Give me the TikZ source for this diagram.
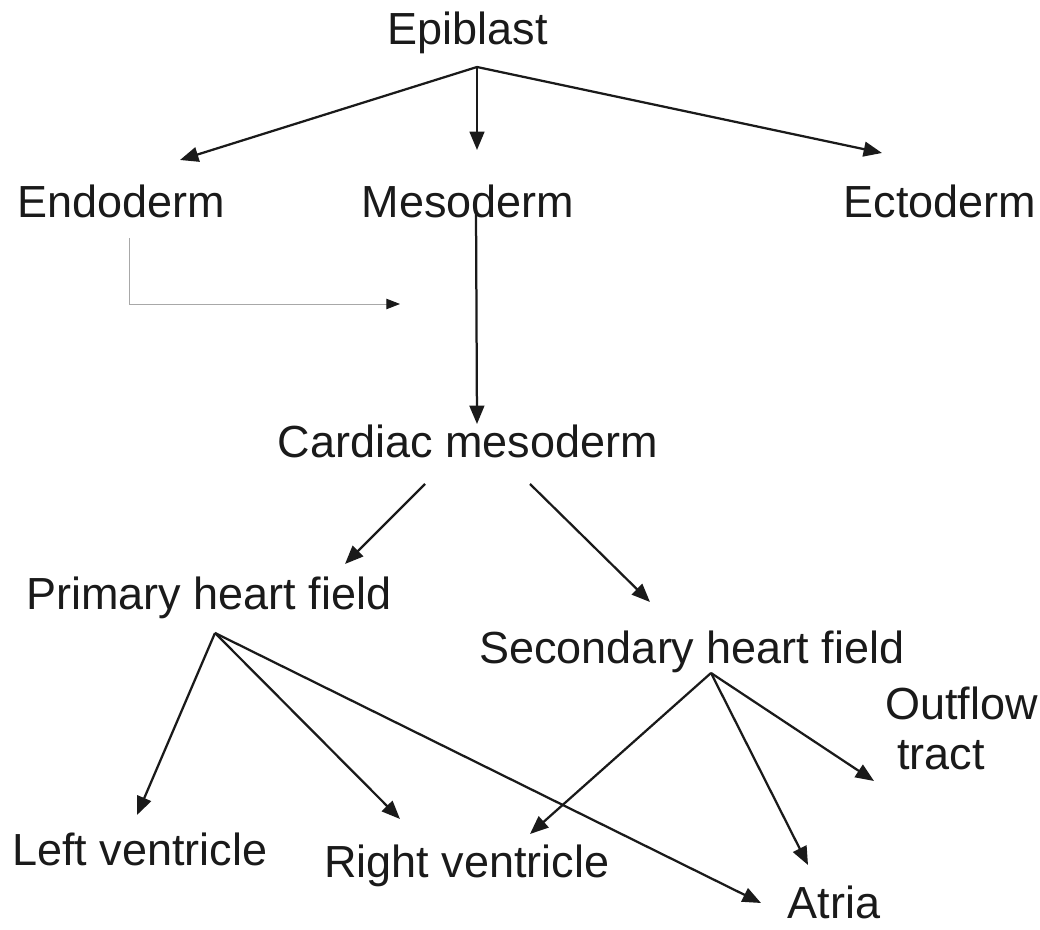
\documentclass[tikz,border=0pt]{standalone}
\usepackage{fontspec}
\setmainfont{Liberation Sans}
\usetikzlibrary{arrows.meta}
\definecolor{cline}{HTML}{1A1A1A}
\definecolor{cgrey}{HTML}{A8A8A8}
\tikzset{
  every picture/.style={line width=1.6pt},
  label/.style={anchor=base, inner sep=0pt, font=\fontsize{32}{35.5}\selectfont, text=cline},
  arrow/.style={-{Triangle[length=4.6mm, width=3.7mm]}, draw=cline},
  thinarrow/.style={-{Triangle[length=3.4mm, width=2.6mm, color=cline]}, draw=cgrey, line width=0.6pt},
}
\begin{document}
\begin{tikzpicture}
  \useasboundingbox (0,0) rectangle (26,-23.25);
  % germ layers
  \node[label] (epi) at (11.7,-1.125) {Epiblast};
  \node[label] (endo) at (3.04,-5.45) {Endoderm};
  \node[label] (meso) at (11.7,-5.45) {Mesoderm};
  \node[label] (ecto) at (23.5,-5.45) {Ectoderm};
  \node[label] (card) at (11.69,-11.45) {Cardiac mesoderm};
  % heart fields
  \node[label] (phf) at (5.225,-15.25) {Primary heart field};
  \node[label] (shf) at (17.3,-16.6) {Secondary heart field};
  % heart parts
  \node[label, align=left, anchor=base west] (oft) at (22.1,-19.225) {Outflow\\\hspace{0.3cm}tract};
  \node[label] (lv) at (3.49,-21.625) {Left ventricle};
  \node[label] (rv) at (11.675,-21.925) {Right ventricle};
  \node[label] (atr) at (20.85,-22.95) {Atria};
  % arrow ends
  \coordinate (epi-out) at (11.925,-1.675);
  \coordinate (endo-in) at (4.5,-4.0);
  \coordinate (meso-in) at (11.925,-3.75);
  \coordinate (ecto-in) at (22.05,-3.825);
  \coordinate (meso-out) at (11.9,-5.25);
  \coordinate (card-in) at (11.925,-10.6);
  \coordinate (endo-out) at (3.225,-5.95);
  \coordinate (endo-to) at (10.0,-7.6);
  \coordinate (card-outl) at (10.625,-12.1);
  \coordinate (card-outr) at (13.25,-12.1);
  \coordinate (phf-in) at (8.625,-14.1);
  \coordinate (shf-in) at (16.25,-15.05);
  \coordinate (phf-out) at (5.375,-15.825);
  \coordinate (shf-out) at (17.775,-16.825);
  \coordinate (lv-in) at (3.425,-20.375);
  \coordinate (rv-inl) at (10.0,-20.475);
  \coordinate (rv-inr) at (13.25,-20.85);
  \coordinate (atr-inl) at (19.025,-22.575);
  \coordinate (atr-inr) at (20.2,-21.625);
  \coordinate (oft-in) at (21.85,-19.525);
  % connectors
  \draw[arrow] (epi-out) -- (endo-in);
  \draw[arrow] (epi-out) -- (meso-in);
  \draw[arrow] (epi-out) -- (ecto-in);
  \draw[arrow] (meso-out) -- (card-in);
  \draw[thinarrow] (endo-out) |- (endo-to);
  \draw[arrow] (card-outl) -- (phf-in);
  \draw[arrow] (card-outr) -- (shf-in);
  \draw[arrow] (phf-out) -- (lv-in);
  \draw[arrow] (phf-out) -- (rv-inl);
  \draw[arrow] (phf-out) -- (atr-inl);
  \draw[arrow] (shf-out) -- (rv-inr);
  \draw[arrow] (shf-out) -- (atr-inr);
  \draw[arrow] (shf-out) -- (oft-in);
\end{tikzpicture}
\end{document}
